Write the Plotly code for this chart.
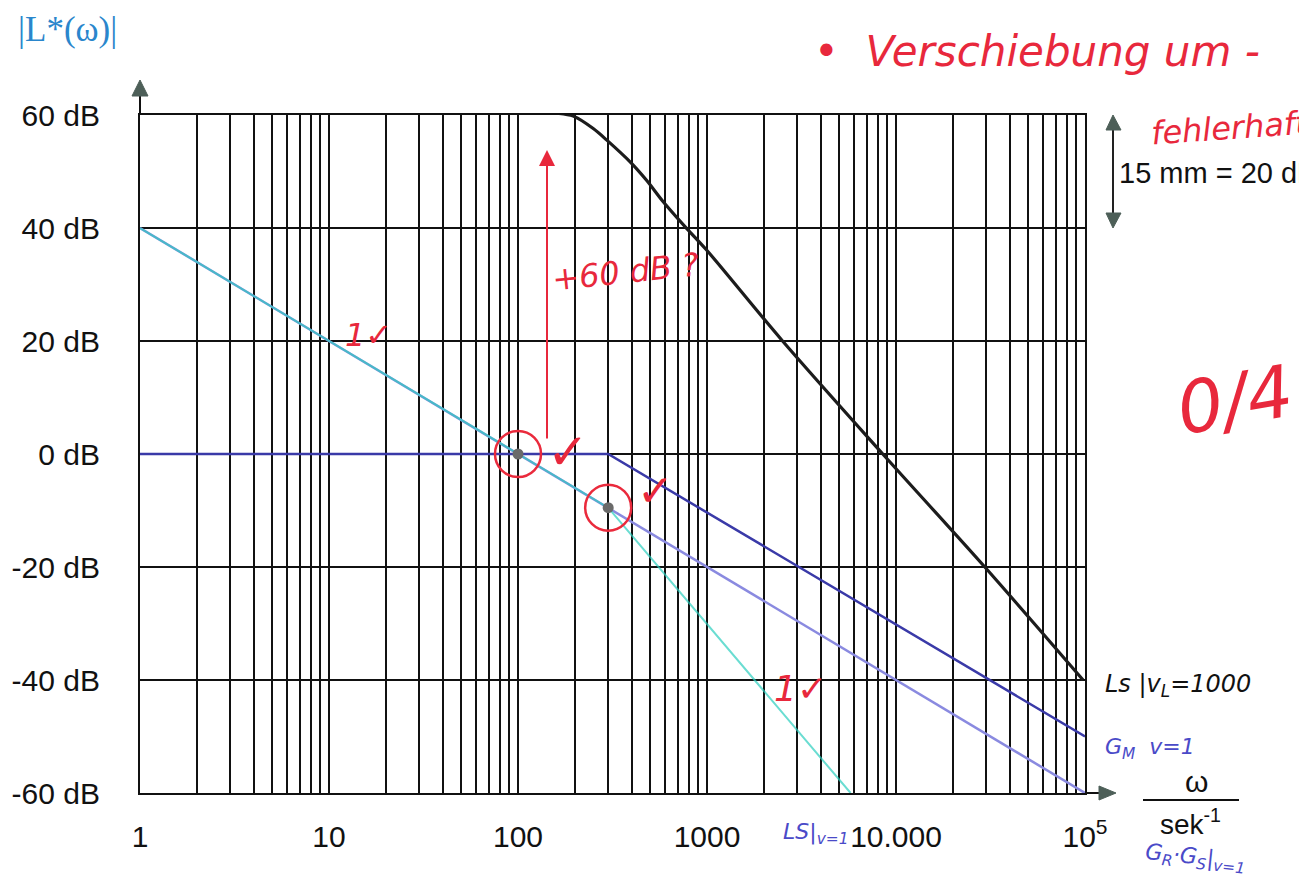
import plotly.graph_objects as go

# ---------------- data ----------------
omega_gm = [1, 300, 1e5]            # G_M |v=1  (dark blue)
db_gm = [0, 0, -50]

omega_straight = [1, 1e5]           # G_R*G_S |v=1 (light purple)
db_straight = [40, -60]

omega_ls1 = [1, 300, 5750]          # Ls |v=1 (cyan)
db_ls1 = [40, -9.5, -60]

omega_ls1000 = [163, 196, 250, 294, 392, 480, 585, 782, 995, 2510, 8510, 29500, 97700]  # Ls |v_L=1000 (black)
db_ls1000 = [60.3, 59.8, 57.6, 55.6, 51.7, 48.4, 44.7, 39.9, 36.1, 20, 0, -20, -40]

omega_pts = [100, 300]
db_pts = [0, -9.5]

x_tick_vals = [1, 10, 100, 1000, 10000, 100000]
x_tick_text = ["1", "10", "100", "1000", "10.000", "10<sup>5</sup>"]
y_tick_vals = [60, 40, 20, 0, -20, -40, -60]
y_tick_text = ["60 dB", "40 dB", "20 dB", "0 dB", "-20 dB", "-40 dB", "-60 dB"]

# ---------------- geometry helpers ----------------
W, H = 1299, 894
L, R, T, B = 140, 1085, 115, 793


def px(x):
    return (x - L) / (R - L)


def py(y):
    return (B - y) / (B - T)


minor_vals = [k * 10 ** d for d in range(5) for k in range(2, 10)]

fig = go.Figure()
fig.add_trace(go.Scatter(x=omega_straight, y=db_straight, mode="lines",
                         line=dict(color="#8a8ae0", width=2.5), showlegend=False))
fig.add_trace(go.Scatter(x=omega_gm, y=db_gm, mode="lines",
                         line=dict(color="#3a3aa8", width=2.5), showlegend=False))
fig.add_trace(go.Scatter(x=omega_ls1, y=db_ls1, mode="lines",
                         line=dict(color="#2ccfbf", width=2), opacity=0.7, showlegend=False))
fig.add_trace(go.Scatter(x=omega_ls1000, y=db_ls1000, mode="lines",
                         line=dict(color="#1c1c1c", width=3.2, shape="spline", smoothing=0.9),
                         showlegend=False))
fig.add_trace(go.Scatter(x=omega_pts, y=db_pts, mode="markers",
                         marker=dict(color="#6a6a6a", size=11), showlegend=False))
fig.add_trace(go.Scatter(x=omega_pts, y=db_pts, mode="markers",
                         marker=dict(color="#ea2a3c", size=46, symbol="circle-open",
                                     line=dict(color="#ea2a3c", width=2.5)),
                         showlegend=False))

axis_font = dict(family="Liberation Sans, Arial", size=30, color="#111")

fig.update_xaxes(type="log", range=[0, 5], tickvals=x_tick_vals, ticktext=x_tick_text,
                 showgrid=True, gridcolor="#111", gridwidth=2,
                 minor=dict(tickvals=minor_vals, showgrid=True, gridcolor="#111",
                            gridwidth=2, ticks=""),
                 showline=True, linecolor="#111", linewidth=2, mirror=True,
                 ticks="", tickfont=axis_font, ticklabelstandoff=16, zeroline=False,
                 automargin=False)
fig.update_yaxes(range=[-60, 60], tickvals=y_tick_vals, ticktext=y_tick_text,
                 showgrid=True, gridcolor="#111", gridwidth=2,
                 showline=True, linecolor="#111", linewidth=2, mirror=True,
                 ticks="", tickfont=axis_font, ticklabelstandoff=32, zeroline=False,
                 automargin=False)

shapes = []
tri_fill = "#4d5f58"
# y-axis arrow
shapes.append(dict(type="line", xref="paper", yref="paper", x0=px(140), x1=px(140),
                   y0=py(115), y1=py(94), line=dict(color="#111", width=2)))
shapes.append(dict(type="path", xref="paper", yref="paper",
                   path=f"M {px(132)},{py(96)} L {px(148)},{py(96)} L {px(140)},{py(80)} Z",
                   fillcolor=tri_fill, line=dict(color=tri_fill, width=1)))
# x-axis arrow
shapes.append(dict(type="line", xref="paper", yref="paper", x0=px(1085), x1=px(1101),
                   y0=py(793), y1=py(793), line=dict(color="#111", width=2)))
shapes.append(dict(type="path", xref="paper", yref="paper",
                   path=f"M {px(1099)},{py(786)} L {px(1099)},{py(800)} L {px(1116)},{py(793)} Z",
                   fillcolor=tri_fill, line=dict(color=tri_fill, width=1)))
# scale double arrow
shapes.append(dict(type="line", xref="paper", yref="paper", x0=px(1113), x1=px(1113),
                   y0=py(128), y1=py(215), line=dict(color="#222", width=2)))
shapes.append(dict(type="path", xref="paper", yref="paper",
                   path=f"M {px(1106)},{py(130)} L {px(1121)},{py(130)} L {px(1113)},{py(115)} Z",
                   fillcolor=tri_fill, line=dict(color=tri_fill, width=1)))
shapes.append(dict(type="path", xref="paper", yref="paper",
                   path=f"M {px(1106)},{py(213)} L {px(1121)},{py(213)} L {px(1113)},{py(228)} Z",
                   fillcolor=tri_fill, line=dict(color=tri_fill, width=1)))
# fraction bar omega / sek^-1
shapes.append(dict(type="line", xref="paper", yref="paper", x0=px(1143), x1=px(1239),
                   y0=py(800), y1=py(800), line=dict(color="#111", width=2)))

ann = []


def text(x, y, s, size, color, family="Liberation Sans, Arial", xanchor="center",
         angle=0, style="normal"):
    ann.append(dict(xref="paper", yref="paper", x=px(x), y=py(y), text=s, showarrow=False,
                    xanchor=xanchor, yanchor="middle", textangle=angle,
                    font=dict(family=family, size=size, color=color, style=style)))


text(16, 29, "|L*(ω)|", 35, "#2a86cc", family="Liberation Serif, Times New Roman", xanchor="left")
text(1117, 173, "15 mm = 20 dB", 29, "#111", xanchor="left")
text(1196, 781, "ω", 30, "#111")
text(1190, 822, "sek<sup>-1</sup>", 28, "#111")

red = "#e8283c"
blue = "#4a4ac8"
hand = "DejaVu Sans, Verdana"
text(812, 52, "•  Verschiebung um -", 42, red, family=hand, xanchor="left", style="italic")
text(1148, 128, "fehlerhaft", 32, red, family=hand, xanchor="left", style="italic", angle=-4)
text(625, 272, "+60 dB ?", 32, red, family=hand, style="italic", angle=-6)
text(1235, 400, "0/4", 72, red, family=hand, style="italic", angle=-10)
text(368, 335, "1✓", 32, red, family=hand, style="italic")
text(568, 452, "✓", 50, red, family=hand)
text(655, 490, "✓", 44, red, family=hand)
text(800, 688, "1✓", 36, red, family=hand, style="italic")

text(1178, 685, "Ls |v<sub>L</sub>=1000", 24, "#111", family=hand, style="italic")
text(1150, 748, "G<sub>M</sub>  v=1", 22, blue, family=hand, style="italic")
text(1195, 858, "G<sub>R</sub>·G<sub>S</sub>|<sub>v=1</sub>", 22, blue, family=hand, style="italic", angle=6)
text(815, 834, "LS|<sub>v=1</sub>", 22, blue, family=hand, style="italic")

# red arrow (+60 dB ?)
ann.append(dict(xref="paper", yref="paper", x=px(547), y=py(150), ax=0, ay=290,
                axref="pixel", ayref="pixel", text="", showarrow=True, arrowhead=2,
                arrowsize=1.6, arrowwidth=2, arrowcolor=red))

fig.update_layout(width=W, height=H, margin=dict(l=L, r=W - R, t=T, b=H - B),
                  plot_bgcolor="white", paper_bgcolor="white",
                  shapes=shapes, annotations=ann, showlegend=False)

fig.write_html("out.html", config={"displayModeBar": False},
               post_script="document.body.style.margin='0';")
